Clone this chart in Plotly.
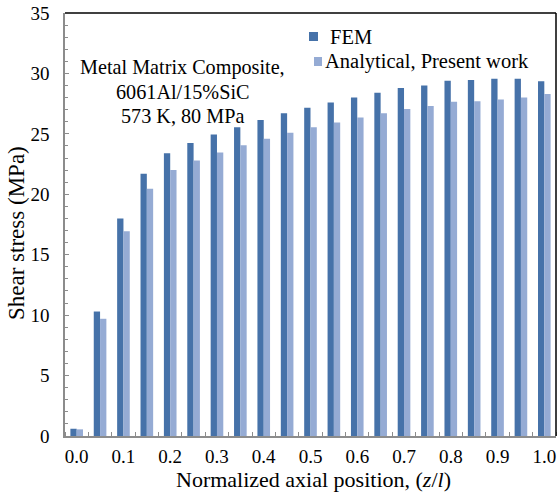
import plotly.graph_objects as go

positions = [0.0, 0.05, 0.1, 0.15, 0.2, 0.25, 0.3, 0.35, 0.4, 0.45, 0.5,
             0.55, 0.6, 0.65, 0.7, 0.75, 0.8, 0.85, 0.9, 0.95, 1.0]
fem = [0.6, 10.3, 18.0, 21.7, 23.4, 24.25, 24.95, 25.55, 26.15, 26.7, 27.15,
       27.6, 28.0, 28.4, 28.8, 29.0, 29.4, 29.45, 29.55, 29.55, 29.35]
analytical = [0.55, 9.7, 16.95, 20.45, 22.0, 22.8, 23.45, 24.05, 24.6, 25.1, 25.55,
              25.95, 26.35, 26.7, 27.05, 27.3, 27.65, 27.7, 27.85, 28.0, 28.3]
xtick_vals = [0.0, 0.1, 0.2, 0.3, 0.4, 0.5, 0.6, 0.7, 0.8, 0.9, 1.0]
xtick_text = ["0.0", "0.1", "0.2", "0.3", "0.4", "0.5", "0.6", "0.7", "0.8", "0.9", "1.0"]
ytick_vals = [0, 5, 10, 15, 20, 25, 30, 35]
series_names = ["FEM", "Analytical, Present work"]
note_lines = ["Metal Matrix Composite,", "6061Al/15%SiC", "573 K, 80 MPa"]
x_title = "Normalized axial position, (<i>z</i>/<i>l</i>)"
y_title = "Shear stress (MPa)"

FONT = "Liberation Serif"
C_FEM = "#4672A9"
C_ANA = "#95ABD4"

W, H = 557, 497
ML, MR, MT, MB = 65, 1, 13, 61
PW, PH = W - ML - MR, H - MT - MB


def px_x(px):
    return (px - ML) / PW


def px_y(py):
    return (H - MB - py) / PH


fig = go.Figure()
fig.add_trace(go.Bar(x=positions, y=fem, name=series_names[0], showlegend=False,
                     marker=dict(color=C_FEM, line=dict(width=0))))
fig.add_trace(go.Bar(x=positions, y=analytical, name=series_names[1], showlegend=False,
                     marker=dict(color=C_ANA, line=dict(width=0))))

shapes = [
    dict(type="line", xref="paper", yref="paper", x0=0, x1=1, y0=1, y1=1,
         line=dict(color="black", width=1.5)),
    dict(type="line", xref="paper", yref="paper", x0=1, x1=1, y0=0, y1=1,
         line=dict(color="black", width=1.5)),
    # legend swatches
    dict(type="rect", xref="paper", yref="paper", x0=px_x(309), x1=px_x(318),
         y0=px_y(41), y1=px_y(32), fillcolor=C_FEM, line=dict(width=0)),
    dict(type="rect", xref="paper", yref="paper", x0=px_x(314), x1=px_x(322),
         y0=px_y(66), y1=px_y(57), fillcolor=C_ANA, line=dict(width=0)),
]

annotations = [
    dict(text=series_names[0], xref="paper", yref="paper", x=px_x(328), y=px_y(37),
         xanchor="left", yanchor="middle", showarrow=False,
         font=dict(size=20.5, family=FONT, color="black")),
    dict(text=series_names[1], xref="paper", yref="paper", x=px_x(323), y=px_y(61),
         xanchor="left", yanchor="middle", showarrow=False,
         font=dict(size=20.5, family=FONT, color="black")),
    dict(text=x_title, xref="paper", yref="paper", x=px_x(313), y=px_y(480),
         xanchor="center", yanchor="middle", showarrow=False,
         font=dict(size=22, family=FONT, color="black")),
    dict(text=y_title, xref="paper", yref="paper", x=px_x(16), y=px_y(233),
         xanchor="center", yanchor="middle", showarrow=False, textangle=-90,
         font=dict(size=23, family=FONT, color="black")),
]
for line_text, cy in zip(note_lines, [68, 92, 116]):
    annotations.append(dict(text=line_text, xref="paper", yref="paper",
                            x=px_x(182), y=px_y(cy), xanchor="center",
                            yanchor="middle", showarrow=False,
                            font=dict(size=20.2, family=FONT, color="black")))

fig.update_layout(
    width=W, height=H,
    margin=dict(l=ML, r=MR, t=MT, b=MB, autoexpand=False),
    paper_bgcolor="white", plot_bgcolor="white",
    barmode="group", bargap=0.46, bargroupgap=0,
    font=dict(family=FONT, color="black", size=19),
    showlegend=False,
    xaxis=dict(range=[-0.025, 1.025], tickmode="array", tickvals=xtick_vals,
               ticktext=xtick_text, ticks="", showgrid=False, zeroline=False,
               showline=True, linecolor="#8c8c8c", linewidth=1.5,
               tickfont=dict(size=19, family=FONT), ticklabelstandoff=2,
               minor=dict(tick0=-0.025, dtick=0.05, ticks="inside", ticklen=4,
                          tickcolor="#8c8c8c", showgrid=False)),
    yaxis=dict(range=[0, 35], tickmode="array", tickvals=ytick_vals,
               ticks="inside", ticklen=4, tickcolor="#8c8c8c",
               showgrid=False, zeroline=False,
               showline=True, linecolor="#8c8c8c", linewidth=1.5,
               tickfont=dict(size=19, family=FONT), ticklabelstandoff=10,
               minor=dict(dtick=1, ticks="inside", ticklen=3,
                          tickcolor="#8c8c8c", showgrid=False)),
    shapes=shapes,
    annotations=annotations,
)

fig.write_html("out.html", config={"displayModeBar": False},
               post_script="document.body.style.margin='0';document.body.style.overflow='hidden';")
